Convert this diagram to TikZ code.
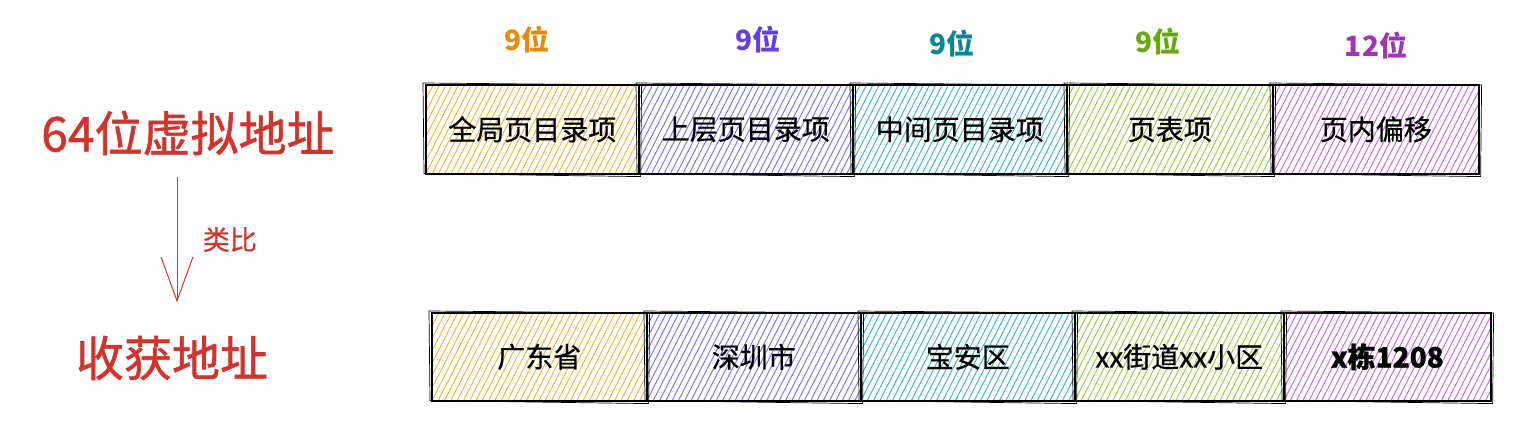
\documentclass[tikz,border=0pt]{standalone}
\usepackage{fontspec}
\setmainfont{Noto Sans CJK SC}
\newfontfamily\medfont{Noto Sans CJK SC}[FakeBold=1.2]
\newfontfamily\semifont{Noto Sans CJK SC}[FakeBold=0.6]
\usetikzlibrary{arrows.meta}
\definecolor{hy}{HTML}{F2B52E}
\definecolor{hb}{HTML}{6B74E8}
\definecolor{ht}{HTML}{35B3C4}
\definecolor{hg}{HTML}{96CC3C}
\definecolor{hp}{HTML}{C761DE}
\definecolor{ly}{HTML}{E8890C}
\definecolor{lb}{HTML}{6741D9}
\definecolor{lt}{HTML}{0C8599}
\definecolor{lg}{HTML}{66A80F}
\definecolor{lp}{HTML}{9C36B5}
\definecolor{rd}{HTML}{D0342C}
\begin{document}
\begin{tikzpicture}[x=1pt,y=-1pt,
  seg/.style={draw=black, line width=1.6pt, minimum height=89pt, inner sep=0pt,
    font=\fontsize{28}{32}\semifont, anchor=north west},
  hatch/.style={path picture={\foreach \k in {-12,...,38}{\draw[#1,line width=0.9pt]
    ([xshift=\k*6.3pt]path picture bounding box.south west) -- ++(63:220pt);}}},
  bits/.style={font=\fontsize{28}{32}\selectfont\bfseries},
  big/.style={text=rd, font=\fontsize{48}{54}\medfont},
]
\useasboundingbox (0,0) rectangle (1515,435);

% top row
\node[seg, hatch=hy, minimum width=213pt] (t1) at (425,84) {全局页目录项};
\node[seg, hatch=hb, minimum width=214pt] (t2) at (638,84) {上层页目录项};
\node[seg, hatch=ht, minimum width=214pt] (t3) at (852,84) {中间页目录项};
\node[seg, hatch=hg, minimum width=206pt] (t4) at (1066,84) {页表项};
\node[seg, hatch=hp, minimum width=206pt] (t5) at (1272,84) {页内偏移};

% bit labels
\node[bits, text=ly] (l1) at (527,40) {9位};
\node[bits, text=lb] (l2) at (758,40) {9位};
\node[bits, text=lt] (l3) at (952,44) {9位};
\node[bits, text=lg] (l4) at (1158,42) {9位};
\node[bits, text=lp] (l5) at (1376,46) {12位};

% bottom row
\node[seg, hatch=hy, minimum width=215pt, minimum height=88pt] (b1) at (431,312) {广东省};
\node[seg, hatch=hb, minimum width=214pt, minimum height=88pt] (b2) at (646,312) {深圳市};
\node[seg, hatch=ht, minimum width=214pt, minimum height=88pt] (b3) at (860,312) {宝安区};
\node[seg, hatch=hg, minimum width=209pt, minimum height=88pt] (b4) at (1074,312) {xx街道xx小区};
\node[seg, hatch=hp, minimum width=207pt, minimum height=88pt] (b5) at (1283,312) {\bfseries x栋1208};

% rough second outlines
\foreach \n in {t1,t2,t3,t4,t5,b1,b2,b3,b4,b5}{
  \draw[line width=0.7pt] ([shift={(-2,-1)}]\n.north west) -- ([shift={(2,1)}]\n.north east)
    -- ([shift={(1,2)}]\n.south east) -- ([shift={(-1,-1)}]\n.south west) -- cycle;
}

% left side
\node[big] (v) at (188,133) {64位虚拟地址};
\node[big] (s) at (172,358) {收获地址};
\draw[rd, line width=1pt, -{Straight Barb[length=44pt,width=32pt,line width=1pt]}]
  ([xshift=-11pt,yshift=-18pt]v.south) -- ([xshift=5pt,yshift=30pt]s.north)
  node[pos=0.5, right=22pt, text=rd, font=\fontsize{27}{30}\semifont] (lab) {类比};
\end{tikzpicture}
\end{document}
